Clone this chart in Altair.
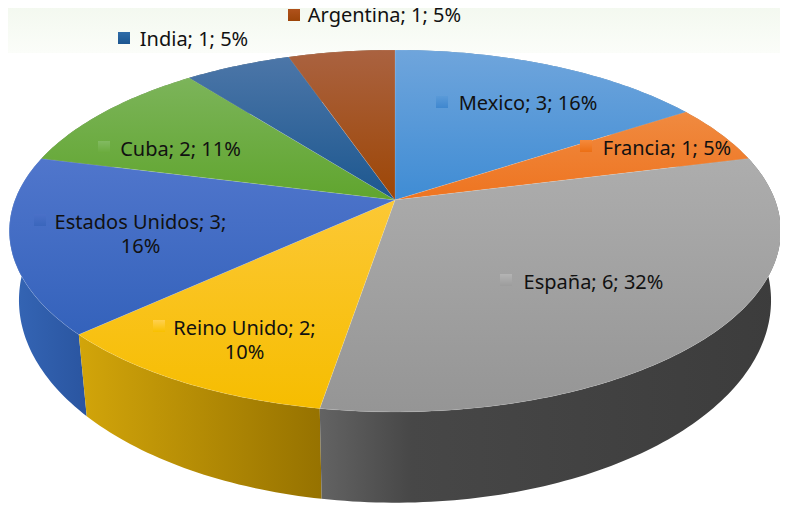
import math
import altair as alt

# ---- chart values ----
categories = ["Mexico", "Francia", "España", "Reino Unido", "Estados Unidos", "Cuba", "India", "Argentina"]
values = [3, 1, 6, 2, 3, 2, 1, 1]
percents = ["16%", "5%", "32%", "10%", "16%", "11%", "5%", "5%"]

# ---- colours: top gradient (far, near), side gradient (left ... right) ----
top_colors = [("#6fa5dc", "#3f8cd4"), ("#f08a40", "#ee7420"), ("#adadad", "#959595"), ("#fcc835", "#f6bd00"),
              ("#5076cc", "#3462bb"), ("#7cb45a", "#60a52e"), ("#4c76a8", "#1c578f"), ("#aa6240", "#9d4605")]
side_colors = [("#2f6ea8", "#2f6ea8"), ("#a8500f", "#a8500f"), ("#636363", "#474747", "#3c3c3c"),
               ("#d2a50a", "#967200"), ("#3566b6", "#2a55a0"), ("#3f6f20", "#3f6f20"),
               ("#123a60", "#123a60"), ("#662f05", "#662f05")]
key_colors = [("#5a9ad8", "#3f87cf"), ("#f58a3c", "#ec6f14"), ("#b4b4b4", "#9c9c9c"), ("#ffd050", "#f8c000"),
              ("#4a70c8", "#3a66bc"), ("#82ba62", "#6aab3c"), ("#2f6ca8", "#1c5690"), ("#b0521c", "#9c4408")]

# ---- view geometry (picture pixels) ----
CX, CY, A, B, K = 395.0, 200.0, 380.0, 175.7, 0.171
SX, SY, YV = 0.975, 0.118, -357.0
STEP = 1.0


def top_point(theta):
    w = 1 + K * math.cos(theta)
    return CX + A * math.sin(theta) / w, CY - B * math.cos(theta) / w


def bottom_point(theta):
    x, y = top_point(theta)
    return CX + (x - CX) * SX, y + SY * (y - YV)


def rim(start, end, fn):
    n = max(2, int(math.degrees(end - start) / STEP))
    return [fn(start + (end - start) * i / n) for i in range(n + 1)]


def feature(points):
    ring = [list(p) for p in points]
    ring.append(ring[0])
    return {"type": "Feature", "properties": {}, "geometry": {"type": "Polygon", "coordinates": [ring]}}


def grad(colors, horizontal=False):
    n = len(colors) - 1
    offsets = [0, 0.2, 1] if n == 2 else [0, 1]
    return alt.Gradient(
        gradient="linear",
        stops=[alt.GradientStop(offset=o, color=c) for o, c in zip(offsets, colors)],
        x1=0, y1=0, x2=1 if horizontal else 0, y2=0 if horizontal else 1,
    )


PROJ = dict(type="identity", scale=1, translate=[-8, -8])


def shape(points, fill, **kw):
    return alt.Chart(alt.Data(values=[feature(points)])).mark_geoshape(fill=fill, **kw).project(**PROJ)


total = sum(values)
angles = [0.0]
for v in values:
    angles.append(angles[-1] + v / total * 2 * math.pi)

layers = []

# pale band behind the top of the picture
layers.append(shape([(0, 0), (790, 0), (790, 53), (0, 53)], grad(("#f2f8ee", "#fbfdf9")), strokeWidth=0))

# pie wall, far slices first
order = [0, 7, 1, 6, 5, 4, 3, 2]
for i in order:
    s, e = angles[i], angles[i + 1]
    pts = rim(s, e, top_point) + rim(s, e, bottom_point)[::-1]
    layers.append(shape(pts, grad(side_colors[i], True), strokeWidth=0))

# pie top
for i in range(len(values)):
    s, e = angles[i], angles[i + 1]
    pts = [(CX, CY)] + rim(s, e, top_point)
    layers.append(shape(pts, grad(top_colors[i]), stroke="#ffffff", strokeOpacity=0.15, strokeWidth=0.8))

# label placement: key square left/top, text centre x/first-line y, wrapped?
label_layout = {
    "Mexico": (436, 96, 528, 103.5, False),
    "Francia": (580, 140, 667, 148.5, False),
    "España": (500, 274, 593.5, 282.5, False),
    "Reino Unido": (153, 320, 244.5, 328.5, True),
    "Estados Unidos": (34, 214, 140.5, 222.5, True),
    "Cuba": (98, 141, 180.5, 149.5, False),
    "India": (118, 32, 194, 39.5, False),
    "Argentina": (288, 9, 384.5, 16, False),
}
KEY = 12
texts = []
for i, name in enumerate(categories):
    kx, ky, tx, ty, wrapped = label_layout[name]
    layers.append(shape([(kx, ky), (kx + KEY, ky), (kx + KEY, ky + KEY), (kx, ky + KEY)],
                        grad(key_colors[i]), strokeWidth=0))
    sep = "\n" if wrapped else " "
    texts.append({"t": f"{name}; {values[i]};{sep}{percents[i]}", "lon": tx, "lat": ty})

layers.append(
    alt.Chart(alt.Data(values=texts))
    .mark_text(font="Noto Sans", fontSize=20, color="#111111", align="center", baseline="middle",
               lineBreak="\n", lineHeight=24)
    .encode(longitude="lon:Q", latitude="lat:Q", text="t:N")
    .project(**PROJ)
)

chart = (
    alt.layer(*layers)
    .properties(width=772, height=495, padding=0, background="#ffffff", autosize=alt.AutoSizeParams(type="none"))
    .configure_view(stroke=None)
)
chart.save("out.html", embed_options={"renderer": "svg", "actions": False})
